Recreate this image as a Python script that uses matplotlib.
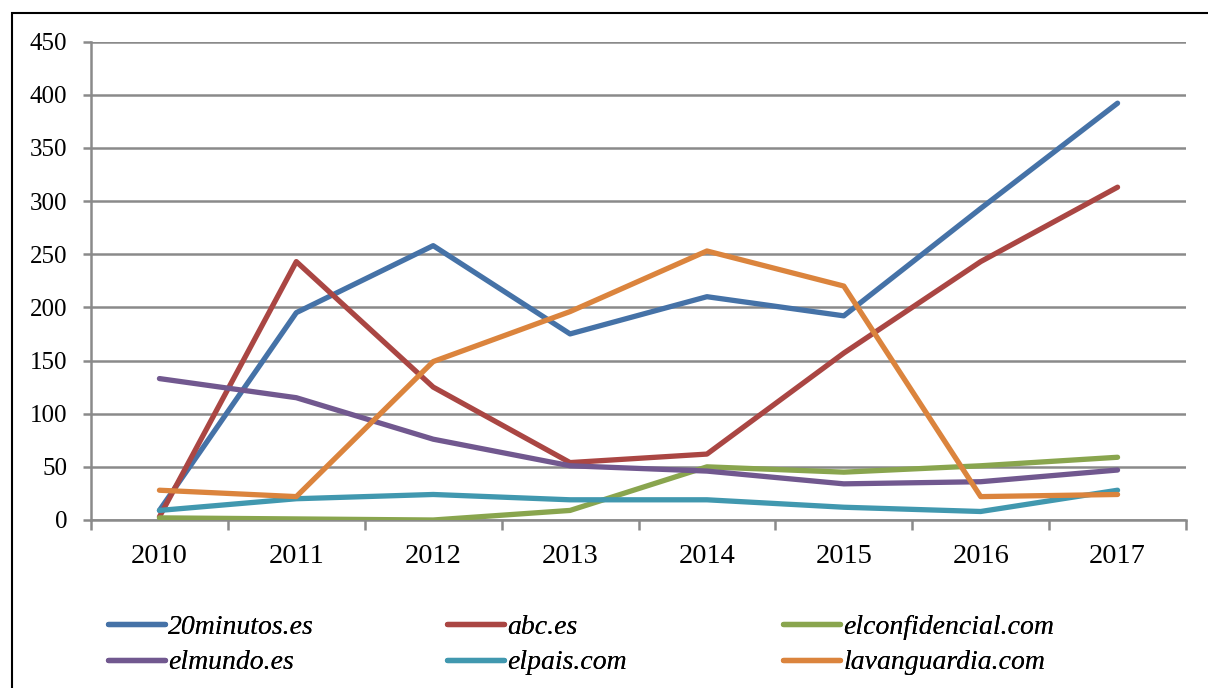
import matplotlib

matplotlib.use("Agg")

import matplotlib.pyplot as plt
from matplotlib.patches import Rectangle

# datos
YEARS = ["2010", "2011", "2012", "2013", "2014", "2015", "2016", "2017"]
MINUTOS = [9, 195, 258, 175, 210, 192, 293, 392]
ABC = [3, 243, 125, 54, 62, 157, 243, 313]
ELCONFIDENCIAL = [2, 1, 0, 9, 50, 45, 51, 59]
ELMUNDO = [133, 115, 76, 51, 46, 34, 36, 47]
ELPAIS = [9, 20, 24, 19, 19, 12, 8, 28]
LAVANGUARDIA = [28, 22, 149, 196, 253, 220, 22, 24]

SERIES = [
    ("20minutos.es", MINUTOS, "#4572A7"),
    ("abc.es", ABC, "#AA4643"),
    ("elconfidencial.com", ELCONFIDENCIAL, "#89A54E"),
    ("elmundo.es", ELMUNDO, "#71588F"),
    ("elpais.com", ELPAIS, "#4198AF"),
    ("lavanguardia.com", LAVANGUARDIA, "#DB843D"),
]

plt.rcParams["font.family"] = ["Liberation Serif", "DejaVu Serif"]

W, H = 1208, 688
fig = plt.figure(figsize=(W / 100, H / 100), dpi=100)
ax = fig.add_axes([91 / W, 1 - 520 / H, (1186 - 91) / W, (520 - 41.5) / H])

x = list(range(len(YEARS)))
handles = {}
for name, vals, color in SERIES:
    (ln,) = ax.plot(x, vals, color=color, linewidth=3.8, solid_capstyle="round",
                    solid_joinstyle="round", zorder=3)
    handles[name] = ln

grid_c = "#8a8a8a"
ax.set_xlim(-0.5, len(YEARS) - 0.5)
ax.set_ylim(0, 450)
ax.set_yticks(range(0, 451, 50))
ax.yaxis.grid(True, color=grid_c, linewidth=1.8)
ax.set_axisbelow(True)

ax.set_xticks([i - 0.5 for i in range(len(YEARS) + 1)])
ax.set_xticklabels([])
ax.set_xticks(x, minor=True)
ax.set_xticklabels(YEARS, minor=True, fontsize=20.5)
ax.tick_params(axis="x", which="major", length=7, width=1.8, color=grid_c)
ax.tick_params(axis="x", which="minor", length=0, pad=17)
ax.tick_params(axis="y", length=6, width=1.8, color=grid_c, labelsize=18, pad=11)

for side in ("top", "right"):
    ax.spines[side].set_visible(False)
for side in ("left", "bottom"):
    ax.spines[side].set_color(grid_c)
    ax.spines[side].set_linewidth(1.8)

# leyenda en tres columnas (colocadas a mano)
cols = [(108, ["20minutos.es", "elmundo.es"]),
        (447, ["abc.es", "elpais.com"]),
        (783, ["elconfidencial.com", "lavanguardia.com"])]
for xpix, names in cols:
    leg = fig.legend([handles[n] for n in names], names,
                     loc="center left", bbox_to_anchor=(xpix / W, 1 - 645 / H),
                     frameon=False, borderpad=0, borderaxespad=0,
                     handlelength=2.05, handletextpad=0.12, labelspacing=0.36,
                     prop={"style": "italic", "size": 20})
    fig.add_artist(leg)

# marco negro del gráfico
fig.add_artist(Rectangle((11.5 / W, -0.1), 1.2, 1.1 - 12.5 / H, transform=fig.transFigure,
                         fill=False, edgecolor="black", linewidth=1.5))

fig.savefig("out.png", dpi=100)
